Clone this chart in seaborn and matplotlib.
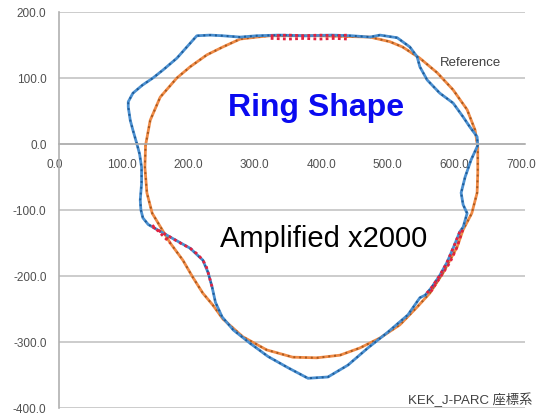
import seaborn as sns; sns.set_style("white")
import matplotlib.pyplot as plt
import matplotlib.transforms as mtransforms
import pandas as pd

# measured ring shape (amplified), clockwise from the left side
meas_x = [117, 111, 107, 104, 104, 111, 125, 141, 156, 177, 192, 207, 227, 246, 272, 297,
          330, 370, 410, 440, 467, 482, 508, 527, 538, 542, 553, 572, 592, 607, 617, 628,
          629, 619, 610, 604, 607, 613, 607, 602, 594, 583, 572, 560, 550, 542, 524, 494,
          464, 434, 404, 374, 344, 314, 287, 262, 245, 235, 230, 224, 216, 197, 167, 141,
          134, 126, 123, 122, 124, 124, 121, 117]
meas_y = [0, 21, 36, 56, 64, 77, 89, 100, 112, 130, 147, 164, 165, 164, 162, 164,
          165, 164, 165, 164, 162, 165, 161, 147, 132, 117, 97, 77, 62, 41, 26, 11,
          -2, -24, -50, -74, -92, -105, -126, -133, -153, -179, -199, -217, -229, -233, -259, -285,
          -309, -335, -353, -355, -339, -322, -302, -282, -262, -240, -217, -195, -176, -158, -141, -126,
          -122, -112, -100, -85, -60, -35, -15, 0]

# reference ring shape
ref_x = [130, 137, 152, 177, 197, 222, 246, 272, 297, 317, 350, 390, 430, 467, 497, 516,
         542, 568, 592, 613, 625, 629, 629, 628, 620, 607, 598, 577, 557, 538, 512, 482,
         452, 422, 387, 351, 312, 276, 246, 231, 216, 201, 186, 167, 155, 140, 132, 129, 130]
ref_y = [-2, 36, 71, 100, 117, 135, 147, 159, 162, 164, 164, 164, 163, 162, 155, 147,
         130, 108, 82, 52, 21, -5, -44, -74, -105, -130, -156, -195, -226, -247, -274, -294,
         -309, -320, -324, -323, -312, -292, -265, -244, -226, -202, -176, -150, -130, -105, -74, -35, -2]

# straight sections (red)
red_top_x = [318, 345, 368, 391, 414, 434]
red_top_meas_y = [164, 165, 164, 165, 164, 165]
red_top_ref_y = [160, 159, 160, 159, 160, 159]
red_ll_meas_x = [141, 153, 167, 182, 197, 208, 216, 221, 224, 227, 230]
red_ll_meas_y = [-126, -133, -141, -150, -158, -167, -176, -185, -195, -206, -217]
red_ll_ref_x = [140, 147, 155, 161, 167]
red_ll_ref_y = [-123, -130, -138, -144, -150]
red_lr_meas_x = [602, 594, 583, 572, 560, 550]
red_lr_meas_y = [-133, -153, -179, -199, -217, -229]
red_lr_ref_x = [606, 598, 587, 577, 566, 557]
red_lr_ref_y = [-130, -156, -180, -195, -212, -226]

x_ticks = [0, 100, 200, 300, 400, 500, 600, 700]
y_ticks = [200, 100, 0, -100, -200, -300, -400]

BLUE, BLUE_DOT = '#4a8fd0', '#1f5b96'
ORANGE, ORANGE_DOT = '#ef8a45', '#a8581e'
RED = '#e3223f'

fig = plt.figure(figsize=(5.38, 4.14), dpi=100)
ax = fig.add_axes([0.1097, 0.0121, 0.8662, 0.9565])

for y in y_ticks:
    ax.axhline(y, color='#c4c4c4', lw=1.2, zorder=0)

df_ref = pd.DataFrame({'x': ref_x, 'y': ref_y})
df_meas = pd.DataFrame({'x': meas_x, 'y': meas_y})
sns.lineplot(x='x', y='y', data=df_ref, sort=False, estimator=None, color=ORANGE, lw=2.0, ax=ax)
sns.lineplot(x='x', y='y', data=df_ref, sort=False, estimator=None, color=ORANGE_DOT, lw=1.4,
             linestyle=(0, (1, 2)), ax=ax)
sns.lineplot(x='x', y='y', data=df_meas, sort=False, estimator=None, color=BLUE, lw=2.0, ax=ax)
sns.lineplot(x='x', y='y', data=df_meas, sort=False, estimator=None, color=BLUE_DOT, lw=1.4,
             linestyle=(0, (1, 2)), ax=ax)

for xs, ys in [(red_top_x, red_top_meas_y), (red_top_x, red_top_ref_y),
               (red_ll_meas_x, red_ll_meas_y), (red_ll_ref_x, red_ll_ref_y),
               (red_lr_meas_x, red_lr_meas_y), (red_lr_ref_x, red_lr_ref_y)]:
    sns.lineplot(x=xs, y=ys, sort=False, estimator=None, color=RED, lw=2.0,
                 linestyle=(0, (1, 1.2)), ax=ax)

ax.set_xlim(0, 700)
ax.set_ylim(-400, 200)
ax.set_xticks(x_ticks)
ax.set_xticklabels(['%.1f' % v for v in x_ticks])
ax.set_yticks(y_ticks)
ax.set_yticklabels(['%.1f' % v for v in y_ticks])
ax.set_xlabel('')
ax.set_ylabel('')

ax.spines['top'].set_visible(False)
ax.spines['right'].set_visible(False)
ax.spines['bottom'].set_position(('data', 0))
ax.spines['bottom'].set_color('#b0b0b0')
ax.spines['left'].set_color('#b0b0b0')
ax.spines['bottom'].set_linewidth(1.2)
ax.spines['left'].set_linewidth(1.2)
ax.tick_params(axis='x', direction='inout', length=4, color='#b0b0b0', pad=8,
               labelsize=8.5, labelcolor='#505050')
ax.tick_params(axis='y', length=0, pad=9, labelsize=8.5, labelcolor='#505050')
shift = mtransforms.ScaledTranslation(-3 / 72, 0, fig.dpi_scale_trans)
for lbl in ax.get_xticklabels():
    lbl.set_transform(lbl.get_transform() + shift)
for lbl in ax.get_xticklabels() + ax.get_yticklabels():
    lbl.set_family(['Liberation Sans', 'DejaVu Sans'])

ax.text(386, 56, 'Ring Shape', color='#0a0af0', fontsize=23, fontweight='bold',
        family=['Liberation Sans', 'DejaVu Sans'], ha='center', va='center',
        bbox=dict(facecolor='white', edgecolor='none', pad=1))
ax.text(398, -142, 'Amplified x2000', color='black', fontsize=21,
        family=['Liberation Sans', 'DejaVu Sans'], ha='center', va='center',
        bbox=dict(facecolor='white', edgecolor='none', pad=2))
ax.text(618, 124, 'Reference', color='#404040', fontsize=9.5,
        family=['Liberation Sans', 'DejaVu Sans'], ha='center', va='center')
ax.text(617, -386, 'KEK_J-PARC 座標系', color='#404040', fontsize=9.5,
        family=['Liberation Sans', 'Noto Sans CJK JP'], ha='center', va='center', clip_on=False)

plt.savefig('out.png', dpi=100)
